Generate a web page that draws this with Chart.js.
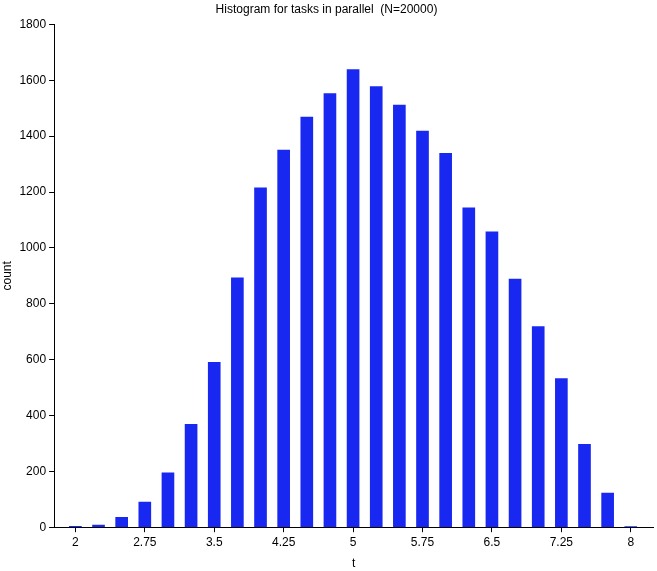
<!DOCTYPE html>
<html><head><meta charset="utf-8">
<script src="https://cdn.jsdelivr.net/npm/chart.js@4"></script>
<style>html,body{margin:0;background:#fff}#wrap{width:657px;height:571px}</style>
</head><body><div id="wrap"><canvas id="c"></canvas></div>
<script>
const binCenters = [2,2.25,2.5,2.75,3,3.25,3.5,3.75,4,4.25,4.5,4.75,5,5.25,5.5,5.75,6,6.25,6.5,6.75,7,7.25,7.5,7.75,8];
const counts = [3,8,35,90,195,368,590,893,1215,1350,1468,1552,1638,1577,1511,1418,1338,1143,1057,888,718,532,297,122,1];
const xTicks = [2,2.75,3.5,4.25,5,5.75,6.5,7.25,8];

Chart.defaults.font.family = "Liberation Sans, Arial, sans-serif";
Chart.defaults.font.size = 12;
Chart.defaults.color = "#000";

new Chart(document.getElementById("c"), {
  type: "bar",
  data: {
    datasets: [{
      data: binCenters.map((x, i) => ({ x: x, y: counts[i] })),
      backgroundColor: "rgb(24,40,240)",
      barThickness: 12
    }]
  },
  options: {
    responsive: true,
    maintainAspectRatio: false,
    animation: false,
    layout: { padding: { left: 0, right: 4, top: 0, bottom: 0 } },
    plugins: {
      legend: { display: false },
      tooltip: { enabled: false },
      title: { display: true, text: "Histogram for tasks in parallel  (N=20000)", padding: { top: 2, bottom: 8 }, font: { size: 12, weight: "normal" } }
    },
    scales: {
      x: {
        type: "linear", min: 1.77, max: 8.24, offset: false,
        afterBuildTicks: axis => { axis.ticks = xTicks.map(v => ({ value: v })); },
        grid: { display: true, drawOnChartArea: false, offset: false, drawTicks: true, tickLength: 5, color: "#000" },
        border: { color: "#000" },
        ticks: { autoSkip: false, maxRotation: 0, callback: v => String(v) },
        title: { display: true, text: "t", padding: { top: 4, bottom: 0 } }
      },
      y: {
        min: 0, max: 1800,
        ticks: { stepSize: 200, callback: v => String(v) },
        grid: { display: true, drawOnChartArea: false, drawTicks: true, tickLength: 5, color: "#000" },
        border: { color: "#000" },
        title: { display: true, text: "count", padding: { top: 0, bottom: 2 } }
      }
    }
  }
});
</script></body></html>
